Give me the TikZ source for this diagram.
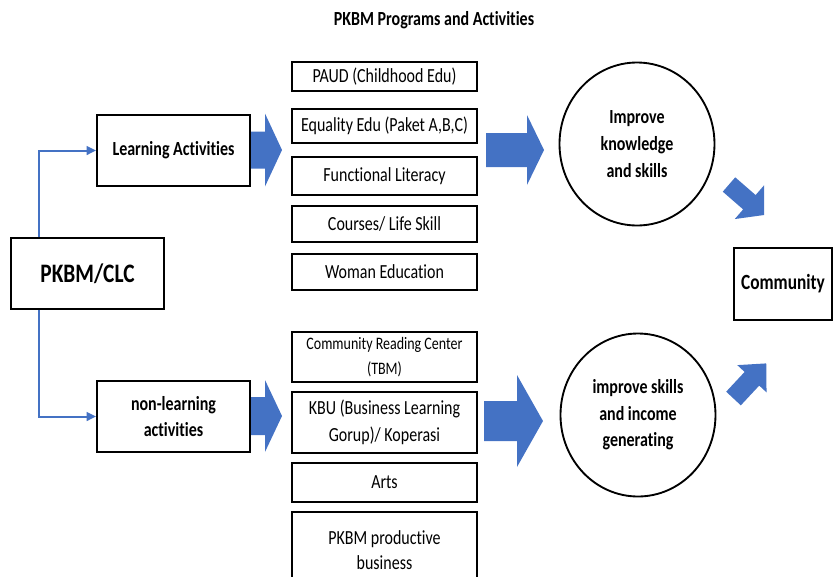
\documentclass[tikz,border=0pt]{standalone}
\usepackage{fontspec}
\usepackage{graphicx}
\setmainfont{Carlito}[Ligatures=NoCommon]
\usetikzlibrary{calc,arrows.meta,shapes.geometric}
\definecolor{arrblue}{HTML}{4472C4}
\newdimen\pxu \pxu=0.75pt
\newcommand{\vs}[1]{\scalebox{1}[1.25]{#1}}
% x, y, angle, length, head length, shaft half-width, head half-width
\newcommand{\fatarrow}[7]{%
  \fill[arrblue,shift={(#1,#2)},rotate=#3]
    (0,-#6) -- ({#4-#5},-#6) -- ({#4-#5},-#7) -- (#4,0) --
    ({#4-#5},#7) -- ({#4-#5},#6) -- (0,#6) -- cycle;}
\begin{document}
\begin{tikzpicture}[x=0.75pt,y=-0.75pt,
  box/.style={draw,line width=1.4pt,inner sep=0pt,align=center},
  mainbox/.style={box,minimum width=153\pxu,minimum height=71\pxu},
  listbox/.style={box,minimum width=185\pxu,font=\fontsize{12}{20}\selectfont},
  bubble/.style={draw,line width=1.4pt,ellipse,inner sep=0pt,align=center,
    minimum width=155\pxu,minimum height=163\pxu,font=\bfseries\fontsize{12}{20}\selectfont},
  conn/.style={draw=arrblue,line width=1.5pt,-{Triangle[length=7pt,width=6.5pt]}}]
\useasboundingbox (0,0) rectangle (833,576);
\clip (0,0) rectangle (833,576);

\node[font=\bfseries\fontsize{12}{14}\selectfont] (title) at (434,20) {\vs{PKBM Programs and Activities}};

\node[mainbox,font=\bfseries\fontsize{16}{19}\selectfont] (pkbm) at (87.5,273.5) {\vs{PKBM/CLC}};
\node[mainbox,font=\bfseries\fontsize{12}{20}\selectfont] (learn) at (173.5,150.5) {\vs{Learning Activities}};
\node[mainbox,font=\bfseries\fontsize{12}{20}\selectfont] (nonlearn) at (173.5,416.5) {\vs{non-learning}\\\vs{activities}};

\node[listbox,minimum height=29\pxu] (paud) at (384.5,76.5) {\vs{PAUD (Childhood Edu)}};
\node[listbox,minimum height=34\pxu] (equal) at (384.5,126) {\vs{Equality Edu (Paket A,B,C)}};
\node[listbox,minimum height=38\pxu] (func) at (384.5,176) {\vs{Functional Literacy}};
\node[listbox,minimum height=36\pxu] (course) at (384.5,224) {\vs{Courses/ Life Skill}};
\node[listbox,minimum height=36\pxu] (woman) at (384.5,272) {\vs{Woman Education}};

\node[listbox,minimum height=50\pxu,font=\fontsize{10.5}{18.5}\selectfont] (crc) at (384.5,357) {\vs{Community Reading Center}\\\vs{(TBM)}};
\node[listbox,minimum height=61\pxu] (kbu) at (384.5,422.5) {\vs{KBU (Business Learning}\\\vs{Gorup)/ Koperasi}};
\node[listbox,minimum height=39\pxu] (arts) at (384.5,482.5) {\vs{Arts}};
\node[listbox,minimum height=76\pxu,font=\fontsize{12}{19}\selectfont] (prod) at (384.5,550) {\vs{PKBM productive}\\\vs{business}};

\node[bubble] (know) at (637,144) {\vs{Improve}\\\vs{knowledge}\\\vs{and skills}};
\node[bubble] (income) at (638,415) {\vs{improve skills}\\\vs{and income}\\\vs{generating}};

\node[box,minimum width=98\pxu,minimum height=72\pxu,font=\bfseries\fontsize{13}{16}\selectfont] (comm) at (783,284) {\vs{Community}};

\draw[conn] ($(pkbm.north west)+(29,0)$) |- (learn.west);
\draw[conn] ($(pkbm.south west)+(29,0)$) |- (nonlearn.west);

\fatarrow{251}{150}{0}{31}{17}{18.5}{36.5}
\fatarrow{251}{416}{0}{31}{17}{19}{36}
\fatarrow{486}{150}{0}{58}{17}{17}{35}
\fatarrow{484}{421}{0}{59}{26}{20}{46}
\fatarrow{729}{184.5}{-41}{46.5}{19.5}{9.5}{22.3}
\fatarrow{733.5}{398.5}{47}{48}{21}{10}{20}
\end{tikzpicture}
\end{document}
